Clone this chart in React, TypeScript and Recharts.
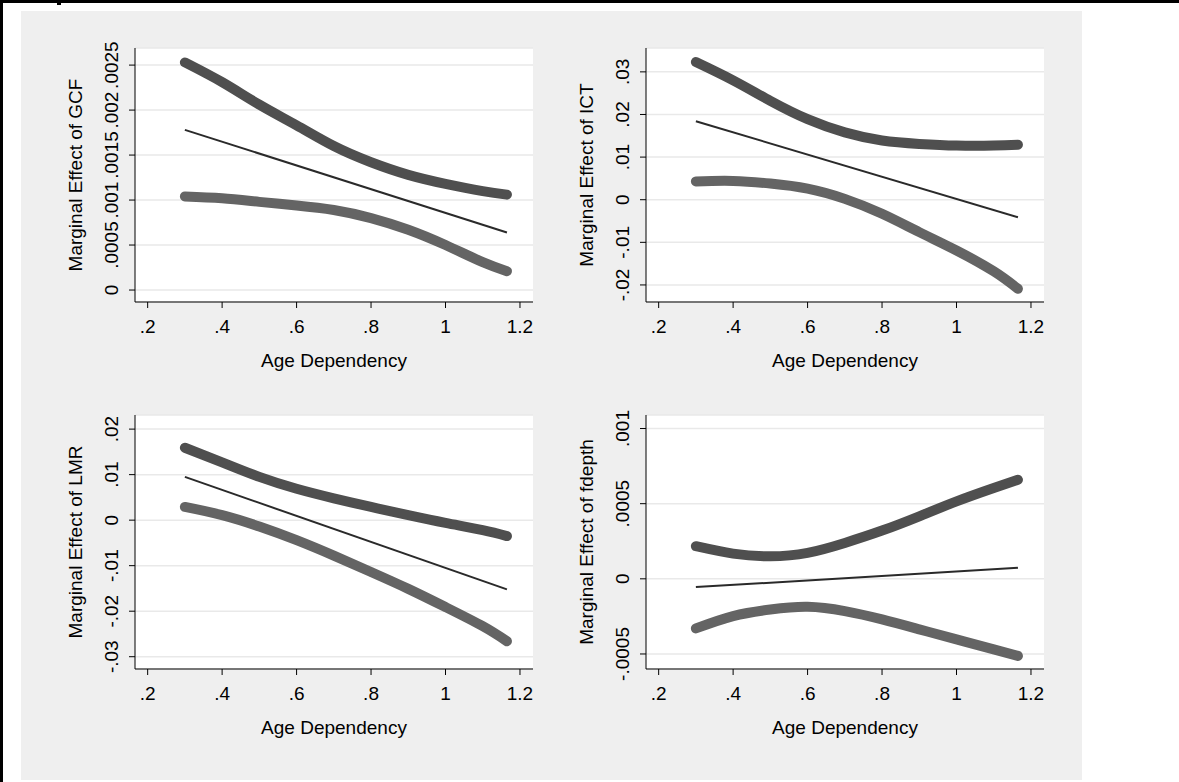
import React from "react";
import { LineChart, Line, XAxis, YAxis, CartesianGrid } from "recharts";

const FONT = '"Liberation Sans", Arial, Helvetica, sans-serif';

// age dependency values where the curves were read
const ageX = [0.3, 0.4, 0.5, 0.6, 0.7, 0.8, 0.9, 1.0, 1.1, 1.165];

const xTicks = [0.2, 0.4, 0.6, 0.8, 1, 1.2];
const xLabels = [".2", ".4", ".6", ".8", "1", "1.2"];

// GCF
const gcfUpper = [0.00253, 0.00231, 0.00206, 0.00183, 0.0016, 0.00142, 0.00128, 0.00118, 0.0011, 0.00106];
const gcfLower = [0.00104, 0.00102, 0.00098, 0.00094, 0.00089, 0.0008, 0.00067, 0.0005, 0.00031, 0.00021];
const gcfFit = [0.00178, null, null, null, null, null, null, null, null, 0.00064];
const gcfTicks = [0, 0.0005, 0.001, 0.0015, 0.002, 0.0025];
const gcfLabels = ["0", ".0005", ".001", ".0015", ".002", ".0025"];

// ICT
const ictUpper = [0.0323, 0.028, 0.0232, 0.0189, 0.0158, 0.0139, 0.0131, 0.0127, 0.0127, 0.0129];
const ictLower = [0.0043, 0.0044, 0.0038, 0.0026, 0.0002, -0.0033, -0.0076, -0.0119, -0.0168, -0.0209];
const ictFit = [0.0184, null, null, null, null, null, null, null, null, -0.0041];
const ictTicks = [-0.02, -0.01, 0, 0.01, 0.02, 0.03];
const ictLabels = ["-.02", "-.01", "0", ".01", ".02", ".03"];

// LMR
const lmrUpper = [0.0159, 0.0127, 0.0095, 0.0069, 0.0048, 0.0029, 0.0011, -0.0006, -0.0022, -0.0035];
const lmrLower = [0.0029, 0.0011, -0.0014, -0.0044, -0.0078, -0.0114, -0.0151, -0.0191, -0.0233, -0.0266];
const lmrFit = [0.0095, null, null, null, null, null, null, null, null, -0.0152];
const lmrTicks = [-0.03, -0.02, -0.01, 0, 0.01, 0.02];
const lmrLabels = ["-.03", "-.02", "-.01", "0", ".01", ".02"];

// fdepth
const fdUpper = [0.000217, 0.000168, 0.00015, 0.000173, 0.000239, 0.000321, 0.000416, 0.000515, 0.000604, 0.000659];
const fdLower = [-0.00033, -0.000248, -0.000204, -0.000186, -0.000215, -0.00027, -0.000336, -0.000403, -0.000469, -0.000513];
const fdFit = [-0.000055, null, null, null, null, null, null, null, null, 0.000073];
const fdTicks = [-0.0005, 0, 0.0005, 0.001];
const fdLabels = ["-.0005", "0", ".0005", ".001"];

type PanelProps = {
  left: number;
  top: number;
  title: string;
  upper: number[];
  lower: number[];
  fit: (number | null)[];
  yDomain: [number, number];
  yTicks: number[];
  yLabels: string[];
};

function Panel({ left, top, title, upper, lower, fit, yDomain, yTicks, yLabels }: PanelProps) {
  const data = ageX.map((x, i) => ({ x, upper: upper[i], lower: lower[i], fit: fit[i] }));

  return (
    <div style={{ position: "absolute", left, top }}>
      <LineChart
        width={560}
        height={390}
        data={data}
        margin={{ top: 48, right: 27, bottom: 48, left: 75 }}
      >
        <CartesianGrid vertical={false} fill="#ffffff" fillOpacity={1} stroke="#e9e9e9" strokeWidth={1.5} />
        <XAxis
          dataKey="x"
          type="number"
          domain={[0.166, 1.235]}
          ticks={xTicks}
          allowDataOverflow
          height={40}
          tickSize={6}
          tickMargin={12}
          stroke="#000"
          tickFormatter={(v: number) => xLabels[xTicks.indexOf(v)]}
          tick={{ fill: "#000", fontSize: 19, fontFamily: FONT }}
          label={(p: any) => {
            const vb = p.viewBox || { x: 135, y: 302, width: 398 };
            return (
              <text
                x={vb.x + vb.width / 2}
                y={vb.y + 65}
                textAnchor="middle"
                fill="#000"
                fontSize={19}
                fontFamily={FONT}
              >
                Age Dependency
              </text>
            );
          }}
        />
        <YAxis
          type="number"
          domain={yDomain}
          ticks={yTicks}
          allowDataOverflow
          width={60}
          tickSize={6}
          tickMargin={11}
          stroke="#000"
          tick={(p: any) => (
            <text
              x={p.x}
              y={p.y}
              transform={`rotate(-90 ${p.x} ${p.y})`}
              textAnchor="middle"
              fill="#000"
              fontSize={19}
              fontFamily={FONT}
            >
              {yLabels[yTicks.indexOf(p.payload.value)]}
            </text>
          )}
          label={(p: any) => {
            const vb = p.viewBox || { x: 75, y: 48, height: 254 };
            const cx = vb.x + 7;
            const cy = vb.y + vb.height / 2;
            return (
              <text
                x={cx}
                y={cy}
                transform={`rotate(-90 ${cx} ${cy})`}
                textAnchor="middle"
                fill="#000"
                fontSize={19}
                fontFamily={FONT}
              >
                {title}
              </text>
            );
          }}
        />
        <Line
          dataKey="upper"
          type="natural"
          stroke="#4f4f4f"
          strokeWidth={10}
          strokeLinecap="round"
          dot={false}
          activeDot={false}
          isAnimationActive={false}
        />
        <Line
          dataKey="lower"
          type="natural"
          stroke="#646464"
          strokeWidth={10}
          strokeLinecap="round"
          dot={false}
          activeDot={false}
          isAnimationActive={false}
        />
        <Line
          dataKey="fit"
          type="linear"
          connectNulls
          stroke="#2a2a2a"
          strokeWidth={2}
          dot={false}
          activeDot={false}
          isAnimationActive={false}
        />
      </LineChart>
    </div>
  );
}

export default function App() {
  return (
    <div
      style={{
        position: "absolute",
        left: 0,
        top: 0,
        width: 1179,
        height: 782,
        background: "#fff",
        overflow: "hidden",
      }}
    >
      <div style={{ position: "absolute", left: 0, top: 0, width: 1179, height: 3, background: "#000" }} />
      <div style={{ position: "absolute", left: 0, top: 0, width: 3, height: 782, background: "#000" }} />
      <div style={{ position: "absolute", left: 57, top: 0, width: 4, height: 5, background: "#000" }} />
      <div style={{ position: "absolute", left: 21, top: 11, width: 1061, height: 769, background: "#efefef" }} />

      <Panel
        left={0}
        top={0}
        title="Marginal Effect of GCF"
        upper={gcfUpper}
        lower={gcfLower}
        fit={gcfFit}
        yDomain={[-0.000133, 0.00269]}
        yTicks={gcfTicks}
        yLabels={gcfLabels}
      />
      <Panel
        left={511}
        top={0}
        title="Marginal Effect of ICT"
        upper={ictUpper}
        lower={ictLower}
        fit={ictFit}
        yDomain={[-0.024, 0.0356]}
        yTicks={ictTicks}
        yLabels={ictLabels}
      />
      <Panel
        left={0}
        top={367}
        title="Marginal Effect of LMR"
        upper={lmrUpper}
        lower={lmrLower}
        fit={lmrFit}
        yDomain={[-0.0327, 0.0231]}
        yTicks={lmrTicks}
        yLabels={lmrLabels}
      />
      <Panel
        left={511}
        top={367}
        title="Marginal Effect of fdepth"
        upper={fdUpper}
        lower={fdLower}
        fit={fdFit}
        yDomain={[-0.0006, 0.00109]}
        yTicks={fdTicks}
        yLabels={fdLabels}
      />
    </div>
  );
}
